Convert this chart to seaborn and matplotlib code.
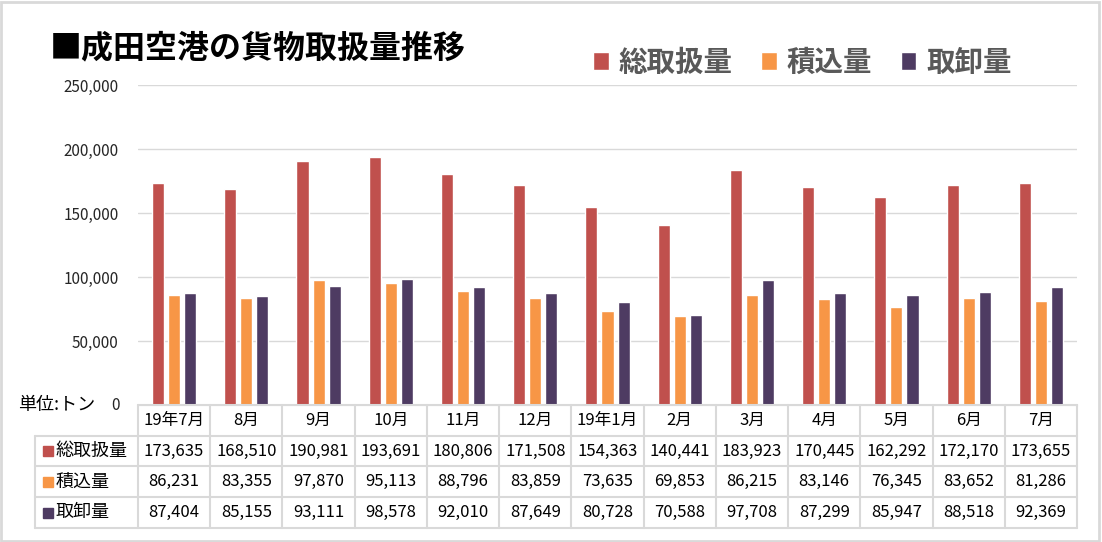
import pandas as pd
import matplotlib.pyplot as plt
from matplotlib.patches import Rectangle
import seaborn as sns

months = ["19年7月", "8月", "9月", "10月", "11月", "12月", "19年1月",
          "2月", "3月", "4月", "5月", "6月", "7月"]
series = ["総取扱量", "積込量", "取卸量"]
total = [173635, 168510, 190981, 193691, 180806, 171508, 154363,
         140441, 183923, 170445, 162292, 172170, 173655]
loaded = [86231, 83355, 97870, 95113, 88796, 83859, 73635,
          69853, 86215, 83146, 76345, 83652, 81286]
unloaded = [87404, 85155, 93111, 98578, 92010, 87649, 80728,
            70588, 97708, 87299, 85947, 88518, 92369]
colors = ["#C0504D", "#F79646", "#4E3B62"]

sns.set_style("white")
plt.rcParams["font.family"] = ["Noto Sans CJK JP", "DejaVu Sans"]

df = pd.DataFrame({
    "month": months * 3,
    "series": [s for s in series for _ in months],
    "value": total + loaded + unloaded,
})

W, H = 1102, 542
fig = plt.figure(figsize=(W / 100, H / 100), dpi=100)
ax = fig.add_axes([138 / W, 1 - 405 / H, (1077 - 138) / W, 320 / H])

sns.barplot(data=df, x="month", y="value", hue="series", palette=colors,
            saturation=1, width=0.667, gap=0.25, ax=ax, legend=True)

ax.set_ylim(0, 250000)
ax.set_xlim(-0.5, len(months) - 0.5)
ax.set_yticks(range(0, 250001, 50000))
ax.set_yticklabels([f"{v:,}" if v else "" for v in range(0, 250001, 50000)],
                   fontsize=11, color="#262626")
ax.tick_params(axis="y", length=0, pad=14)
ax.set_xticks([])
ax.set_xlabel("")
ax.set_ylabel("")
ax.yaxis.grid(True, color="#d9d9d9", linewidth=1)
ax.set_axisbelow(True)
for s in ["left", "right", "top"]:
    ax.spines[s].set_visible(False)
ax.spines["bottom"].set_color("#d9d9d9")

# legend
handles, labels = ax.get_legend_handles_labels()
ax.get_legend().remove()
fig.legend(handles, labels, loc="center left",
           bbox_to_anchor=(593 / W, 1 - 63 / H), ncol=3, frameon=False,
           prop={"size": 20.5, "weight": "bold"}, labelcolor="#595959",
           handlelength=0.55, handleheight=0.55, handletextpad=0.35,
           columnspacing=1.0, borderpad=0, borderaxespad=0)

# title
fig.text(50 / W, 1 - 48 / H, "■成田空港の貨物取扱量推移", fontsize=23,
         weight="bold", va="center", color="black")
fig.text(18 / W, 1 - 405 / H, "単位:トン", fontsize=13, va="center",
         color="black")
fig.text(120 / W, 1 - 405 / H, "0", fontsize=11, va="center", ha="right",
         color="#262626")

# data table below the plot
tr = ax.get_xaxis_transform()
ph = 320.0
rows_y = [0, -31 / ph, -61 / ph, -92 / ph, -123 / ph]
label_left = -0.5 - (138 - 35) / ((1077 - 138) / len(months))
line_kw = dict(color="#d9d9d9", linewidth=1.5, transform=tr, clip_on=False)

for i, y in enumerate(rows_y[1:]):
    ax.plot([label_left, len(months) - 0.5], [y, y], **line_kw)
ax.plot([-0.5, len(months) - 0.5], [0, 0], **line_kw)
ax.plot([label_left, label_left], [rows_y[1], rows_y[-1]], **line_kw)
for k in range(len(months) + 1):
    ax.plot([k - 0.5, k - 0.5], [0, rows_y[-1]], **line_kw)

for j, m in enumerate(months):
    ax.text(j, (rows_y[0] + rows_y[1]) / 2, m, transform=tr, ha="center",
            va="center", fontsize=12, color="black")

table_vals = [total, loaded, unloaded]
for r, (name, vals, c) in enumerate(zip(series, table_vals, colors)):
    yc = (rows_y[r + 1] + rows_y[r + 2]) / 2
    for j, v in enumerate(vals):
        ax.text(j, yc, f"{v:,}", transform=tr, ha="center", va="center",
                fontsize=12, color="black")
    ax.plot([label_left + 0.18], [yc], marker="s", markersize=7.5, color=c,
            transform=tr, clip_on=False, linestyle="none")
    ax.text(label_left + 0.29, yc, name, transform=tr, ha="left",
            va="center", fontsize=13, color="black")

# outer frame
fig.patches.append(Rectangle((0.001, 0.002), 0.996, 0.995, fill=False,
                             edgecolor="#d9d9d9", linewidth=2,
                             transform=fig.transFigure))

fig.savefig("out.png", dpi=100)
